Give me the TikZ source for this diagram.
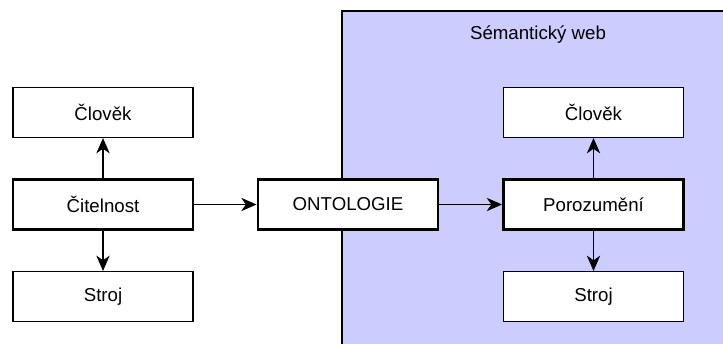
\documentclass[tikz,border=0pt]{standalone}
\usepackage{fontspec}
\setmainfont{Liberation Sans}
\usetikzlibrary{arrows.meta,positioning}
\definecolor{webfill}{HTML}{CCCCFF}
\tikzset{
	box/.style={draw, line width=0.9pt, fill=white, minimum width=135pt, minimum height=37.5pt, inner sep=0pt},
	mainbox/.style={box, line width=2.2pt},
	arr/.style={-{Stealth[length=11.5pt, width=10pt, inset=3.5pt]}, line width=0.9pt},
}
\begin{document}
\begin{tikzpicture}[x=0.75pt, y=0.75pt, font=\fontsize{14}{17}\selectfont, node distance=30pt]
\useasboundingbox (0,0) rectangle (723,-343);
	%% Semanticky web
	\draw[fill=webfill, line width=0.9pt] (342,-360) rectangle (740,-11);
	\node (web) at (538,-35) {Sémantický web};

	%% Vlevo
	\node[mainbox] (citelnost) at (103,-204.5) {Čitelnost};
	\node[box, above=of citelnost] (clovekL) {Člověk};
	\node[box, below=of citelnost] (strojL) {Stroj};

	%% Uprostred
	\node[mainbox] (ontologie) at (348,-204.5) {ONTOLOGIE};

	%% Vpravo
	\node[mainbox] (porozumeni) at (593.5,-204.5) {Porozumění};
	\node[box, above=of porozumeni] (clovekR) {Člověk};
	\node[box, below=of porozumeni] (strojR) {Stroj};

	%% Sipky
	\draw[arr] (citelnost) -- (clovekL);
	\draw[arr] (citelnost) -- (strojL);
	\draw[arr] (citelnost) -- (ontologie);
	\draw[arr] (ontologie) -- (porozumeni);
	\draw[arr] (porozumeni) -- (clovekR);
	\draw[arr] (porozumeni) -- (strojR);
\end{tikzpicture}
\end{document}
